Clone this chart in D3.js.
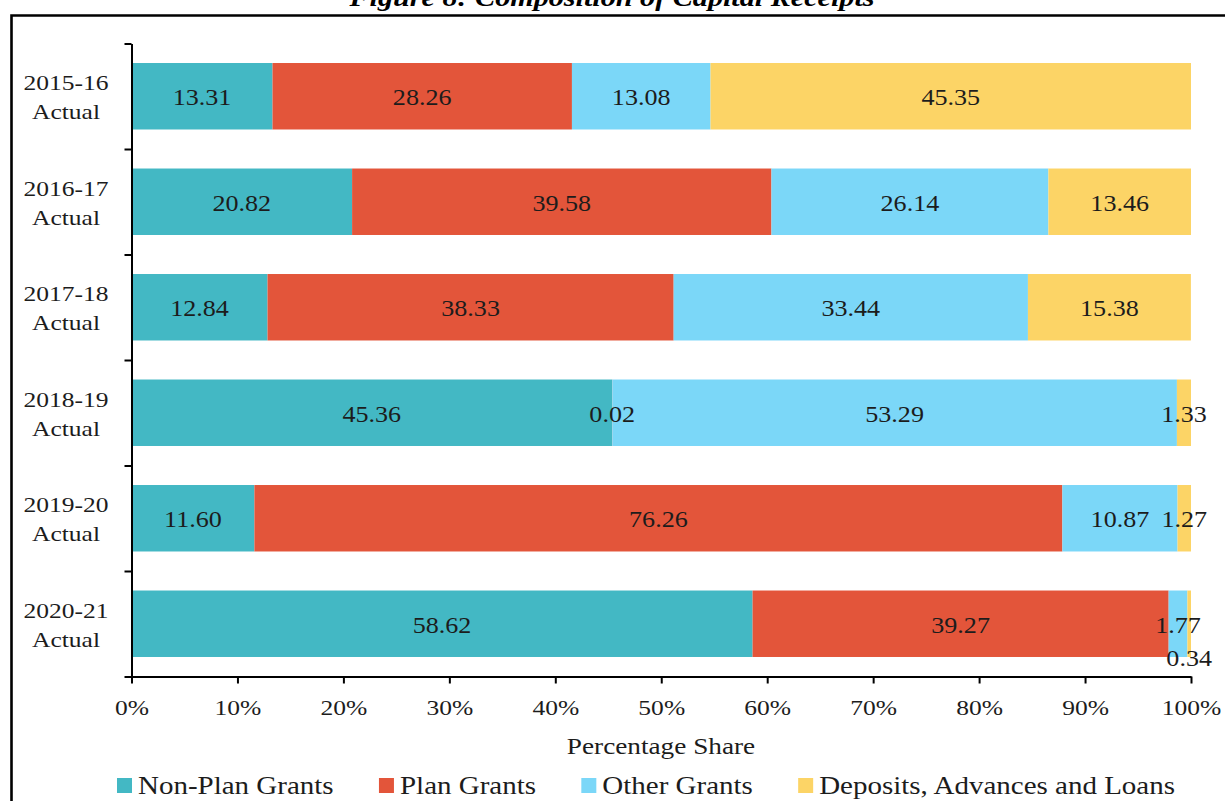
<!DOCTYPE html>
<html>
<head>
<meta charset="utf-8">
<script src="https://cdn.jsdelivr.net/npm/d3@7"></script>
<style>
  html, body { margin: 0; padding: 0; background: #fff; }
  svg { display: block; }
  text { font-family: "Liberation Serif", "Times New Roman", serif; fill: #1c1c1c; }
</style>
</head>
<body>
<svg id="chart" width="1225" height="801"></svg>
<script>
// Composition of capital receipts, share of each source per year (%)
const years = ["2015-16", "2016-17", "2017-18", "2018-19", "2019-20", "2020-21"];
const yearSub = "Actual";
const seriesNames = ["Non-Plan Grants", "Plan Grants", "Other Grants", "Deposits, Advances and Loans"];
const nonPlanGrants = [13.31, 20.82, 12.84, 45.36, 11.60, 58.62];
const planGrants    = [28.26, 39.58, 38.33, 0.02, 76.26, 39.27];
const otherGrants   = [13.08, 26.14, 33.44, 53.29, 10.87, 1.77];
const deposits      = [45.35, 13.46, 15.38, 1.33, 1.27, 0.34];
const xTickValues   = [0, 10, 20, 30, 40, 50, 60, 70, 80, 90, 100];
const titleText = "Figure 8: Composition of Capital Receipts";
const axisTitle = "Percentage Share";

const colors = ["#43b8c4", "#e3553a", "#7bd7f8", "#fcd466"];
const seriesValues = [nonPlanGrants, planGrants, otherGrants, deposits];

const W = 1225, H = 801;
const sx = 1.16; // horizontal text widening used throughout the figure
const plot = { left: 131.5, right: 1191, top: 43.5, bottom: 676.5 };

const svg = d3.select("#chart");
svg.append("rect").attr("width", W).attr("height", H).attr("fill", "#fff");

// table of rows for the stack layout
const rows = years.map((yr, i) => {
  const r = { year: yr };
  seriesNames.forEach((s, k) => { r[s] = seriesValues[k][i]; });
  return r;
});
const stacked = d3.stack().keys(seriesNames)(rows);

const x = d3.scaleLinear().domain([0, 100]).range([plot.left, plot.right]);
const y = d3.scaleBand().domain(years).range([plot.top, plot.bottom])
  .paddingInner(0.37).paddingOuter(0.185);

// frame around the figure
svg.append("path")
  .attr("d", `M11.5,${H + 5}V15.5H${W + 5}`)
  .attr("fill", "none").attr("stroke", "#000").attr("stroke-width", 2.6);

// title (sits above the frame)
svg.append("text")
  .attr("transform", `translate(612,6) scale(${sx},1)`)
  .attr("text-anchor", "middle")
  .style("font-size", "26px").style("font-weight", "bold").style("font-style", "italic")
  .style("fill", "#000")
  .text(titleText);

// bars
const layer = svg.append("g").selectAll("g").data(stacked).join("g")
  .attr("fill", (d, i) => colors[i]);
layer.selectAll("rect").data(d => d).join("rect")
  .attr("x", d => x(d[0]))
  .attr("width", d => x(d[1]) - x(d[0]))
  .attr("y", d => y(d.data.year))
  .attr("height", y.bandwidth());

// value labels
const fmt = d3.format(".2f");
stacked.forEach((ser, k) => {
  ser.forEach(d => {
    const v = d[1] - d[0];
    const cx = x((d[0] + d[1]) / 2);
    const cy = y(d.data.year) + y.bandwidth() / 2;
    // a sliver in the last series gets its label just under the bar
    const below = (k === stacked.length - 1 && v < 1);
    const by = below ? y(d.data.year) + y.bandwidth() + 9 : cy + 9;
    svg.append("text")
      .attr("transform", `translate(${cx},${by}) scale(${sx},1)`)
      .attr("text-anchor", "middle")
      .style("font-size", "22.5px")
      .text(fmt(seriesValues[k][years.indexOf(d.data.year)]));
  });
});

// x axis
const xAxis = svg.append("g")
  .attr("transform", `translate(0,${plot.bottom})`)
  .call(d3.axisBottom(x).tickValues(xTickValues).tickSize(7).tickSizeOuter(0)
    .tickFormat(d => d + "%"));
xAxis.attr("font-family", null).attr("font-size", null);
xAxis.select(".domain").attr("stroke", "#000").attr("stroke-width", 2);
xAxis.selectAll(".tick line").attr("stroke", "#000").attr("stroke-width", 2);
xAxis.selectAll(".tick text")
  .attr("y", null).attr("dy", null)
  .attr("transform", `translate(0,38.5) scale(${sx},1)`)
  .style("font-size", "22px");

// y axis: line plus tick marks on the category boundaries
const yEdges = d3.scaleLinear().domain([0, years.length]).range([plot.top, plot.bottom]);
const yAxis = svg.append("g")
  .attr("transform", `translate(${plot.left},0)`)
  .call(d3.axisLeft(yEdges).ticks(years.length).tickSize(7).tickSizeOuter(0).tickFormat(""));
yAxis.select(".domain").attr("stroke", "#000").attr("stroke-width", 2);
yAxis.selectAll(".tick line").attr("stroke", "#000").attr("stroke-width", 2);

// category labels
const cat = svg.append("g").selectAll("g").data(years).join("g")
  .attr("transform", d => `translate(66,${y(d) + y.bandwidth() / 2}) scale(${sx},1)`);
cat.append("text").attr("text-anchor", "middle").attr("y", -6)
  .style("font-size", "22px").text(d => d);
cat.append("text").attr("text-anchor", "middle").attr("y", 23)
  .style("font-size", "22px").text(yearSub);

// axis title
svg.append("text")
  .attr("transform", `translate(661,754) scale(${sx},1)`)
  .attr("text-anchor", "middle")
  .style("font-size", "23.5px")
  .text(axisTitle);

// legend
const legend = svg.append("g");
const legLeft = 117, legRight = 1175, legBase = 794, sw = 15, swGap = 6;
const items = seriesNames.map((name, i) => {
  const g = legend.append("g");
  g.append("rect").attr("width", sw).attr("height", sw).attr("y", legBase - 16)
    .attr("fill", colors[i]);
  const t = g.append("text")
    .attr("transform", `translate(${sw + swGap},${legBase}) scale(${sx},1)`)
    .style("font-size", "25px").text(name);
  return { g, w: sw + swGap + t.node().getComputedTextLength() * sx };
});
const totalW = d3.sum(items, d => d.w);
const gap = (legRight - legLeft - totalW) / (items.length - 1);
let cursor = legLeft;
items.forEach(it => {
  it.g.attr("transform", `translate(${cursor},0)`);
  cursor += it.w + gap;
});
</script>
</body>
</html>
